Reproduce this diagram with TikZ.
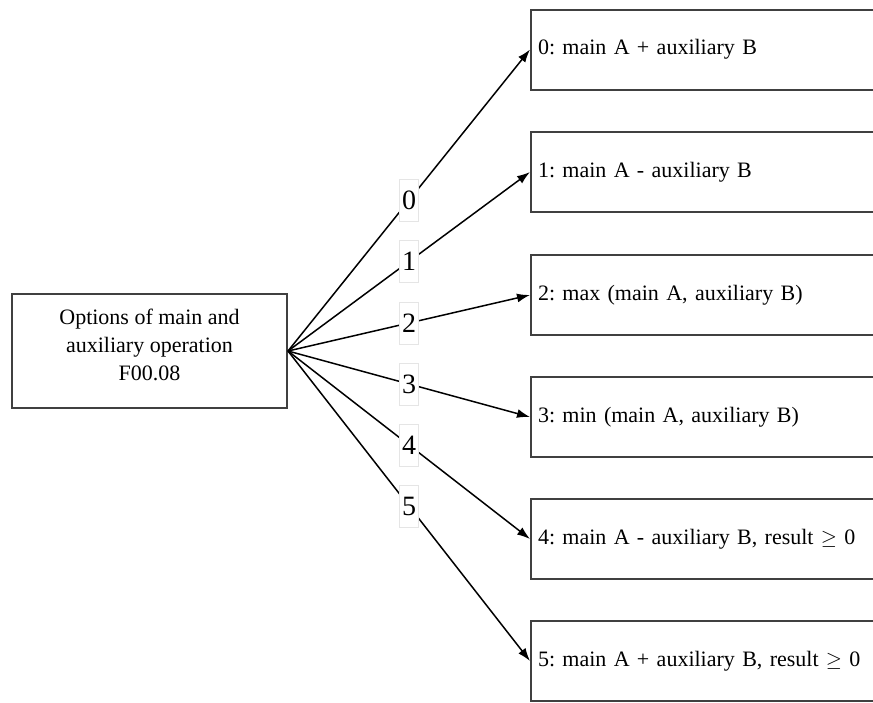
\documentclass[tikz,border=0pt]{standalone}
\usepackage{fontspec}
\setmainfont{Liberation Serif}
\usetikzlibrary{arrows.meta}
\frenchspacing

\begin{document}
\begin{tikzpicture}[-{Latex[length=13pt,width=9pt]},x=1pt,y=-1pt,line width=1.5pt,inner sep=1pt]
\tikzstyle{choice}=[rectangle,draw=black!75,line width=2pt,font=\fontsize{22}{28}\selectfont]
\tikzstyle{result}=[choice,anchor=west,minimum width=380pt,minimum height=80pt,text width=366pt,inner sep=7pt,align=left]
\tikzstyle{num}=[rectangle,draw=black!10,line width=0.8pt,fill=white,minimum width=19pt,minimum height=42pt,inner sep=0pt,font=\fontsize{28}{30}\selectfont]
\useasboundingbox (0,0) rectangle (873,702);
\node[choice,minimum width=275pt,minimum height=114pt,align=center] (opt) at (149.5,351) {Options of main and\\auxiliary operation\\F00.08\\[-16pt]};
\node[result] (r0) at (530,49.5) {0: main A + auxiliary B};
\node[result] (r1) at (530,172) {1: main A - auxiliary B};
\node[result] (r2) at (530,295) {2: max (main A, auxiliary B)};
\node[result] (r3) at (530,417) {3: min (main A, auxiliary B)};
\node[result] (r4) at (530,539) {4: main A - auxiliary B, result $\geq$ 0};
\node[result] (r5) at (530,661) {5: main A + auxiliary B, result $\geq$ 0};
\draw (opt.east) -- node[num] {0} (r0.west);
\draw (opt.east) -- node[num] {1} (r1.west);
\draw (opt.east) -- node[num] {2} (r2.west);
\draw (opt.east) -- node[num] {3} (r3.west);
\draw (opt.east) -- node[num] {4} (r4.west);
\draw (opt.east) -- node[num] {5} (r5.west);
\end{tikzpicture}
\end{document}
